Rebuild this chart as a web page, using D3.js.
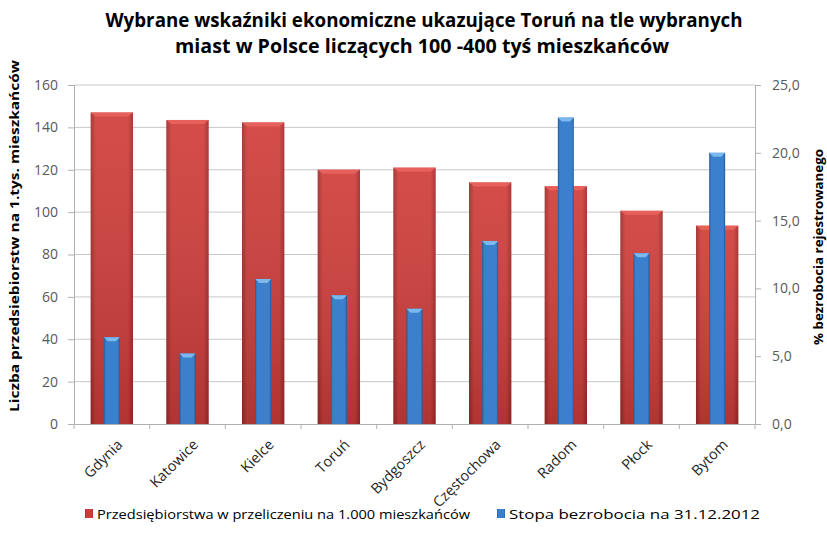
<!DOCTYPE html>
<html><head><meta charset="utf-8">
<script src="https://cdn.jsdelivr.net/npm/d3@7"></script>
<style>body{margin:0;background:#fff}svg{display:block}</style>
</head><body>
<svg id="c" width="827" height="548"></svg>
<script>
const categories = ["Gdynia","Katowice","Kielce","Toruń","Bydgoszcz","Częstochowa","Radom","Płock","Bytom"];
const enterprises = [147.0, 143.5, 142.3, 120.0, 121.0, 114.0, 112.2, 100.6, 93.6];
const unemployment = [6.4, 5.2, 10.7, 9.5, 8.5, 13.5, 22.6, 12.6, 20.0];
const leftTicks = [0,20,40,60,80,100,120,140,160];
const rightTicks = [0,5,10,15,20,25];
const titleLines = ["Wybrane wskaźniki ekonomiczne ukazujące Toruń na tle wybranych","miast w Polsce liczących 100 -400 tyś mieszkańców"];
const leftTitle = "Liczba przedsiebiorstw na 1.tys. mieszkańców";
const rightTitle = "% bezrobocia rejestrowanego";
const legendLabels = ["Przedsiębiorstwa w przeliczeniu na 1.000 mieszkańców","Stopa bezrobocia na 31.12.2012"];

const svg = d3.select("#c");
const font = "'Open Sans', 'Liberation Sans', sans-serif";
const m = {l:74, r:755, t:85, b:424};

const x = d3.scaleBand().domain(categories).range([m.l, m.r]).padding(0);
const yL = d3.scaleLinear().domain([0,160]).range([m.b, m.t]);
const yR = d3.scaleLinear().domain([0,25]).range([m.b, m.t]);

const defs = svg.append("defs");
function grad(id, edge, mid){
  const g = defs.append("linearGradient").attr("id", id).attr("x1","0").attr("x2","1").attr("y1","0").attr("y2","0");
  g.append("stop").attr("offset","0").attr("stop-color", edge);
  g.append("stop").attr("offset","0.12").attr("stop-color", mid);
  g.append("stop").attr("offset","0.88").attr("stop-color", mid);
  g.append("stop").attr("offset","1").attr("stop-color", edge);
}
grad("gRed", "#9e2a28", "#cf3d3a");
grad("gBlue", "#245a9a", "#3b80cc");
const vr = defs.append("linearGradient").attr("id","vRed").attr("x1","0").attr("x2","0").attr("y1","0").attr("y2","1");
vr.append("stop").attr("offset","0").attr("stop-color","#fff").attr("stop-opacity",0.08);
vr.append("stop").attr("offset","1").attr("stop-color","#000").attr("stop-opacity",0.15);

// gridlines
svg.append("g").selectAll("line").data(leftTicks.slice(1)).join("line")
  .attr("x1", m.l).attr("x2", m.r).attr("y1", d=>yL(d)).attr("y2", d=>yL(d))
  .attr("stroke", "#c8c8c8").attr("stroke-width", 1);

// left axis
const axL = svg.append("g").attr("transform",`translate(${m.l},0)`)
  .call(d3.axisLeft(yL).tickValues(leftTicks).tickSize(6).tickPadding(10).tickFormat(d3.format("d")));
axL.select(".domain").attr("stroke","#b0b0b0");
axL.selectAll(".tick line").attr("stroke","#b0b0b0");
axL.selectAll("text").attr("font-family", font).attr("font-size", 14).attr("fill","#595959");

// right axis
const axR = svg.append("g").attr("transform",`translate(${m.r},0)`)
  .call(d3.axisRight(yR).tickValues(rightTicks).tickSize(6).tickPadding(11).tickFormat(d => d3.format(".1f")(d).replace(".", ",")));
axR.select(".domain").attr("stroke","#b0b0b0");
axR.selectAll(".tick line").attr("stroke","#b0b0b0");
axR.selectAll("text").attr("font-family", font).attr("font-size", 14).attr("fill","#595959");

// bottom axis
const axB = svg.append("g").attr("transform",`translate(0,${m.b})`)
  .call(d3.axisBottom(x).tickSize(0).tickFormat(""));
axB.select(".domain").attr("stroke","#b0b0b0");
svg.append("g").selectAll("line").data(d3.range(categories.length+1)).join("line")
  .attr("x1", i => m.l + i*x.bandwidth()).attr("x2", i => m.l + i*x.bandwidth())
  .attr("y1", m.b).attr("y2", m.b+5).attr("stroke","#b0b0b0");

// red bars
const rw = x.bandwidth()*0.56;
const rg = svg.append("g").selectAll("g").data(categories).join("g");
rg.append("rect")
  .attr("x", (d)=> x(d) + (x.bandwidth()-rw)/2).attr("width", rw)
  .attr("y", (d,i)=> yL(enterprises[i])).attr("height", (d,i)=> yL(0)-yL(enterprises[i]))
  .attr("fill","url(#gRed)");
rg.append("rect")
  .attr("x", (d)=> x(d) + (x.bandwidth()-rw)/2).attr("width", rw)
  .attr("y", (d,i)=> yL(enterprises[i])).attr("height", (d,i)=> yL(0)-yL(enterprises[i]))
  .attr("fill","url(#vRed)");
rg.append("path")
  .attr("d", (d,i)=> {const x0 = x(d)+(x.bandwidth()-rw)/2, y0 = yL(enterprises[i]);
    return `M${x0},${y0}L${x0+rw},${y0}L${x0+rw-5},${y0+4}L${x0+5},${y0+4}Z`;})
  .attr("fill","#e8605c");

// blue bars
const bw = 16;
const bg = svg.append("g").selectAll("g").data(categories).join("g");
bg.append("rect")
  .attr("x", d => x(d) + (x.bandwidth()-bw)/2).attr("width", bw)
  .attr("y", (d,i)=> yR(unemployment[i])).attr("height", (d,i)=> yR(0)-yR(unemployment[i]))
  .attr("fill","url(#gBlue)");
bg.append("path")
  .attr("d", (d,i)=> {const x0 = x(d)+(x.bandwidth()-bw)/2, y0 = yR(unemployment[i]);
    return `M${x0},${y0}L${x0+bw},${y0}L${x0+bw-4},${y0+4}L${x0+4},${y0+4}Z`;})
  .attr("fill","#7ab8ee");

// x labels
svg.append("g").selectAll("text").data(categories).join("text")
  .attr("transform", d => `translate(${x(d)+x.bandwidth()/2+8},${m.b+18}) rotate(-45)`)
  .attr("text-anchor","end").attr("dy","0.35em")
  .attr("font-family", font).attr("font-size", 14.5).attr("fill","#262626")
  .text(d => d);

// title
svg.append("g").selectAll("text").data(titleLines).join("text")
  .attr("x", (d,i)=> i===0 ? 424 : 422).attr("y", (d,i)=> 27 + i*26)
  .attr("text-anchor","middle")
  .attr("font-family", font).attr("font-weight", 700).attr("font-size", 20).attr("fill","#000")
  .attr("textLength", (d,i)=> i===0 ? 637 : 494).attr("lengthAdjust","spacingAndGlyphs")
  .text(d => d);

// axis titles
svg.append("text").attr("transform","translate(19,236) rotate(-90)")
  .attr("text-anchor","middle").attr("font-family", font).attr("font-weight",700).attr("font-size",12.5)
  .attr("textLength", 352).attr("lengthAdjust","spacingAndGlyphs")
  .text(leftTitle);
svg.append("text").attr("transform","translate(823,247) rotate(-90)")
  .attr("text-anchor","middle").attr("font-family", font).attr("font-weight",700).attr("font-size",12.5)
  .attr("textLength", 196).attr("lengthAdjust","spacingAndGlyphs")
  .text(rightTitle);

// legend
const leg = [{x:85, c:"url(#gRed)"},{x:497, c:"url(#gBlue)"}];
const lg = svg.append("g").selectAll("g").data(legendLabels).join("g")
  .attr("transform", (d,i)=> `translate(${leg[i].x},509)`);
lg.append("rect").attr("width",8).attr("height",9).attr("fill",(d,i)=>leg[i].c);
lg.append("text").attr("x",12).attr("y",5).attr("dy","0.35em")
  .attr("font-family", font).attr("font-size",13).attr("fill","#000")
  .attr("textLength", (d,i)=> i===0 ? 373 : 251).attr("lengthAdjust","spacingAndGlyphs")
  .text(d=>d);
</script>
</body></html>
